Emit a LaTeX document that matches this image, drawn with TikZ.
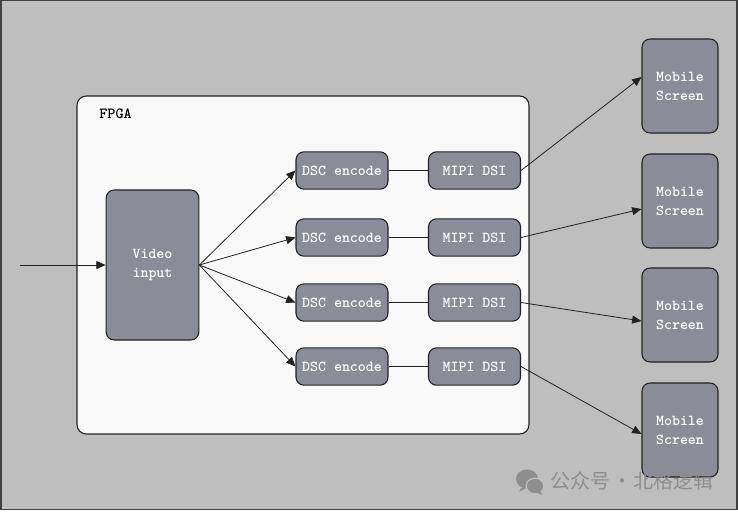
\documentclass[tikz,border=0pt]{standalone}
\usepackage{fontspec}
\newfontfamily\cjk{Noto Sans CJK SC}
\usetikzlibrary{arrows.meta}
\definecolor{bgc}{HTML}{BEBEBE}
\definecolor{panelc}{HTML}{F9F9F9}
\definecolor{boxc}{HTML}{8A8C97}
\definecolor{linec}{HTML}{222222}
\definecolor{markc}{HTML}{8E8E8E}
\tikzset{
  blockbox/.style={draw=linec,line width=0.8pt,fill=boxc,rounded corners=6pt,inner sep=0pt,
    text=white,font=\ttfamily\bfseries\fontsize{11.4}{14.2}\selectfont,align=center},
  dscbox/.style={blockbox,minimum width=69pt,minimum height=28pt},
  screenbox/.style={blockbox,minimum width=57pt,minimum height=70.5pt},
  link/.style={draw=linec,line width=0.6pt},
  arrowlink/.style={link,-{Triangle[length=7pt,width=6pt]}},
}
\begin{document}
\begin{tikzpicture}[x=0.75pt,y=-0.75pt]
\useasboundingbox (0,0) rectangle (738,511);
\node[draw=black!75,line width=0.9pt,fill=bgc,minimum width=552pt,minimum height=381.5pt,inner sep=0pt] (outer) at (369,255) {};
\node[draw=linec,line width=0.8pt,fill=panelc,rounded corners=7pt,minimum width=339pt,minimum height=253.5pt,inner sep=0pt] (fpga) at (303,265) {};
\node[anchor=west,inner sep=0pt,font=\ttfamily\bfseries\fontsize{11.6}{13}\selectfont] (fpgalabel) at (99,114) {FPGA};
\node[blockbox,minimum width=69.5pt,minimum height=112.5pt] (video) at (152.5,265) {\raisebox{0pt}{Video}\\[0.7pt]input};
\coordinate (in) at (20,265);
\foreach \i/\y in {1/170.5,2/237.5,3/302.5,4/366.5}{
  \node[dscbox] (d\i) at (342,\y) {DSC encode};
  \node[dscbox] (s\i) at (474.5,\y) {MIPI DSI};
  \draw[link] (d\i) -- (s\i);
  \draw[arrowlink] (video.east) -- (d\i.west);
}
\foreach \i/\y in {1/86,2/201,3/315,4/430}{
  \node[screenbox] (m\i) at (680,\y) {Mobile\\Screen};
}
\draw[arrowlink] (in) -- (video.west);
\draw[arrowlink] (s1.east) -- ([yshift=6.75pt]m1.west);
\draw[arrowlink] (s2.east) -- ([yshift=-6pt]m2.west);
\draw[arrowlink] (s3.east) -- ([yshift=-4.5pt]m3.west);
\draw[arrowlink] (s4.east) -- ([yshift=-3pt]m4.west);
% watermark
\fill[markc] (527,479) ellipse (11 and 9.5);
\fill[markc] (521,488) -- (519,492) -- (526,488) -- cycle;
\fill[bgc] (535,486) ellipse (9.5 and 8.5);
\fill[markc] (535,486) ellipse (8 and 7);
\fill[markc] (540,491) -- (542,495) -- (535,492) -- cycle;
\node[anchor=west,inner sep=0pt,text=markc,font=\cjk\fontsize{15}{17}\selectfont] (wm) at (550,481) {公众号\hspace{1.4pt}·\hspace{1.4pt}北格逻辑};
\end{tikzpicture}
\end{document}
